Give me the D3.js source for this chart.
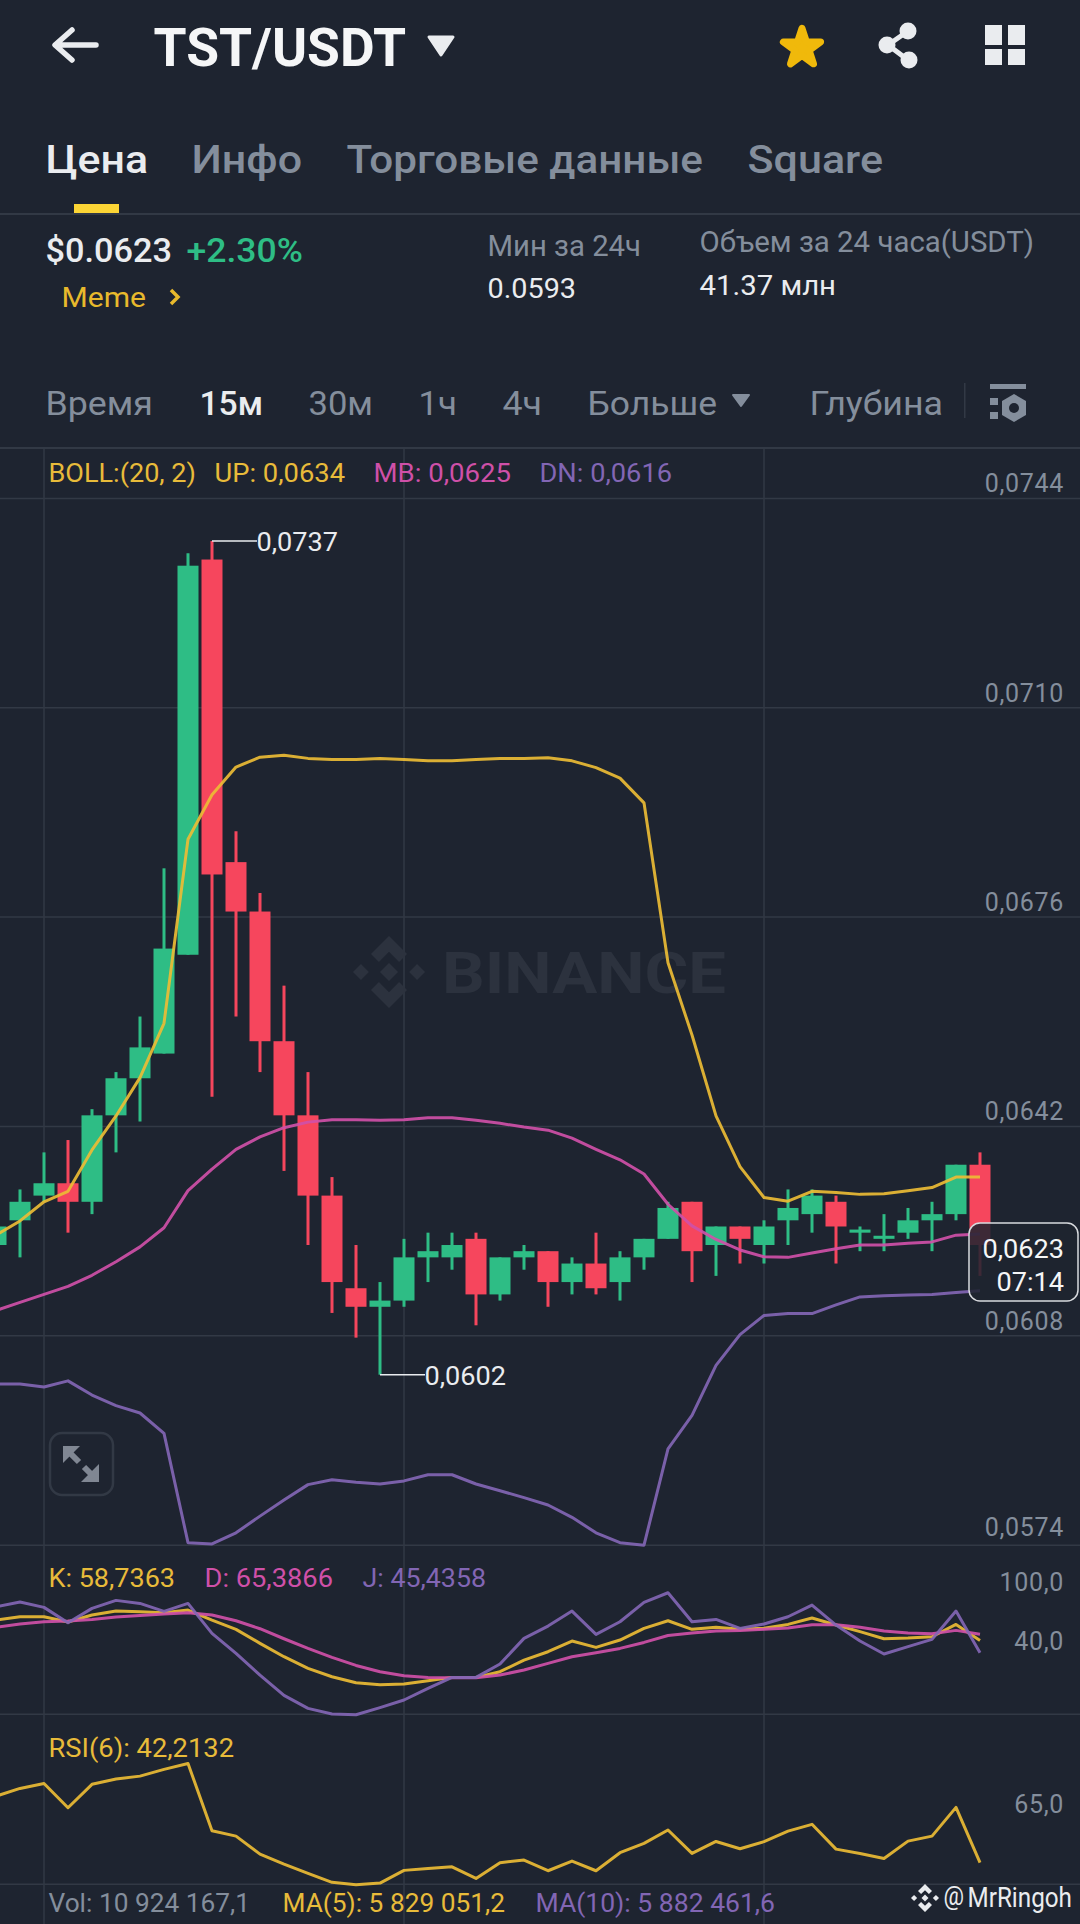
<!DOCTYPE html>
<html>
<head>
<meta charset="utf-8">
<script src="https://cdn.jsdelivr.net/npm/d3@7"></script>
<style>
  html, body { margin: 0; padding: 0; background: #1e2430; }
  svg { display: block; }
  text { font-family: Roboto, "Noto Sans", sans-serif; }
</style>
</head>
<body>
<div id="canvas"></div>
<script>
// candles, one per 15 minutes, oldest first
const opens  = [0.0623,0.0627,0.0631,0.0633,0.0630,0.0644,0.0650,0.0654,0.0670,0.0734,0.0685,0.0677,0.0656,0.0644,0.0631,0.0616,0.0613,0.0614,0.0621,0.0621,0.0624,0.0615,0.0621,0.0622,0.0617,0.0620,0.0617,0.0621,0.0624,0.0630,0.0623,0.0626,0.0623,0.0627,0.0628,0.0630,0.0625,0.0624,0.0625,0.0627,0.0628,0.0636];
const highs  = [0.0628,0.0632,0.0638,0.0640,0.0645,0.0651,0.0660,0.0684,0.0735,0.0737,0.0690,0.0680,0.0665,0.0651,0.0634,0.0623,0.0617,0.0624,0.0625,0.0625,0.0625,0.0621,0.0623,0.0622,0.0621,0.0625,0.0622,0.0624,0.0630,0.0630,0.0626,0.0626,0.0627,0.0632,0.0632,0.0631,0.0626,0.0628,0.0629,0.0630,0.0636,0.0638];
const lows   = [0.0622,0.0621,0.0630,0.0625,0.0628,0.0638,0.0643,0.0654,0.0670,0.0647,0.0660,0.0651,0.0635,0.0623,0.0612,0.0608,0.0602,0.0613,0.0617,0.0619,0.0610,0.0614,0.0619,0.0613,0.0615,0.0615,0.0614,0.0619,0.0624,0.0617,0.0618,0.0620,0.0620,0.0623,0.0625,0.0620,0.0622,0.0622,0.0624,0.0622,0.0627,0.0618];
const closes = [0.0626,0.0630,0.0633,0.0630,0.0644,0.0650,0.0655,0.0671,0.0733,0.0683,0.0677,0.0656,0.0644,0.0631,0.0617,0.0613,0.0614,0.0621,0.0622,0.0623,0.0615,0.0621,0.0622,0.0617,0.0620,0.0616,0.0621,0.0624,0.0629,0.0622,0.0626,0.0624,0.0626,0.0629,0.0631,0.0626,0.06255,0.06245,0.0627,0.0628,0.0636,0.0623];

// bollinger bands
const bollUp = [0.06246,0.06269,0.06300,0.06317,0.06384,0.06439,0.06501,0.06589,0.06887,0.06959,0.07004,0.07020,0.07023,0.07018,0.07016,0.07016,0.07018,0.07016,0.07014,0.07014,0.07016,0.07018,0.07018,0.07019,0.07014,0.07003,0.06986,0.06946,0.06687,0.06570,0.06439,0.06357,0.06307,0.06301,0.06317,0.06315,0.06312,0.06313,0.06318,0.06323,0.06340,0.06340];
const bollMb = [0.06124,0.06137,0.06150,0.06163,0.06181,0.06203,0.06227,0.06258,0.06318,0.06353,0.06385,0.06405,0.06420,0.06429,0.06433,0.06433,0.06432,0.06433,0.06436,0.06436,0.06432,0.06427,0.06421,0.06416,0.06403,0.06385,0.06368,0.06345,0.06296,0.06261,0.06239,0.06222,0.06211,0.06210,0.06217,0.06224,0.06230,0.06230,0.06233,0.06235,0.06246,0.06248];
const bollDn = [0.06005,0.06005,0.06000,0.06010,0.05987,0.05970,0.05958,0.05925,0.05748,0.05746,0.05764,0.05791,0.05817,0.05842,0.05850,0.05846,0.05843,0.05848,0.05858,0.05858,0.05843,0.05832,0.05821,0.05809,0.05789,0.05764,0.05748,0.05744,0.05900,0.05954,0.06035,0.06085,0.06116,0.06119,0.06119,0.06133,0.06146,0.06148,0.06149,0.06150,0.06153,0.06156];

// KDJ
const kdjK = [80.9,84.5,84.5,78.8,86.4,90.7,90.0,88.9,91.8,80.9,70.8,55.6,41.1,28.4,19.3,12.8,10.6,11.4,15.0,18.6,18.6,24.8,37.4,46.5,58.1,51.2,59.2,71.9,80.2,70.8,73.0,70.8,71.9,76.2,83.1,75.5,68.3,60.6,61.4,62.8,76.2,58.7];
const kdjD = [73.0,76.6,79.1,79.9,81.6,84.2,86.0,87.4,88.9,86.4,80.2,71.5,60.6,50.1,40.3,31.6,24.8,20.4,18.6,18.2,18.2,21.1,26.6,33.8,41.1,45.4,50.1,56.6,64.2,66.8,69.0,69.7,70.8,72.2,75.9,75.9,73.0,69.0,66.8,66.1,69.7,65.4];
const kdjJ = [95.4,100.5,94.7,78.0,93.6,102.3,99.0,90.3,99.0,66.4,44.7,21.1,-1.0,-15.1,-21.2,-22.0,-14.3,-6.0,6.6,18.6,18.6,33.1,61.0,74.4,90.7,65.3,79.1,100.1,110.6,79.1,81.6,71.9,76.6,84.5,97.2,75.5,58.1,44.0,52.0,59.9,90.7,45.4];

// RSI(6)
const rsi6 = [79.5,83.8,86.6,73.0,86.1,89.1,90.7,94.5,97.8,60.1,57.1,47.0,41.4,36.2,31.2,29.9,30.8,37.9,39.0,39.9,33.4,42.2,43.7,37.7,43.1,37.7,47.8,53.0,60.5,47.4,54.1,50.0,54.0,59.9,63.7,49.8,47.4,44.6,54.3,57.1,73.2,42.2];

// tick values: the labels are these rounded to 4 places
const priceTicks = [0.07439,0.07100,0.06761,0.06422,0.06083,0.05744];
const kdjTicks = [100,40];
const rsiTicks = [65];
const timeGrid = [2,17,32];  // candle index of vertical grid lines

const bg = "#1e2430", grid = "#323945", grey = "#848e9c", white = "#eaecef";
const green = "#2ebd85", red = "#f6465d", yellow = "#ecbc35", pink = "#cf50a8", purple = "#8266b4", gold = "#f0b90b";

const svg = d3.select("#canvas")
  .append("svg")
    .attr("width", 1080)
    .attr("height", 1924)
    .attr("viewBox", "0 0 1080 1924");

svg.append("rect").attr("width", 1080).attr("height", 1924).attr("fill", bg);

const xScale = d3.scaleLinear().domain([0, 41]).range([-4, 980]);
const yScale = d3.scaleLinear().domain([0.0737, 0.0602]).range([541, 1374.7]);
const kdjScale = d3.scaleLinear().domain([100, 40]).range([1602.5, 1657.7]);
const rsiScale = d3.scaleLinear().domain([65, 42.2]).range([1822, 1862.7]);

const comma = f => v => d3.format(f)(v).replace(".", ",");

// x0,x1 is the span the text takes in the picture
function txt(s, x0, x1, base, size, color, weight) {
    return svg.append("text")
      .attr("x", x0 - 1.5)
      .attr("y", base)
      .attr("textLength", x1 - x0 + 2.5)
      .attr("lengthAdjust", "spacingAndGlyphs")
      .attr("font-size", size)
      .attr("font-weight", weight || 400)
      .attr("fill", color)
      .text(s);
}

function drawHeader() {
    // back arrow
    svg.append("path")
      .attr("d", "M96,45H56M72,30L55,45L72,60")
      .attr("fill", "none").attr("stroke", white).attr("stroke-width", 5.5)
      .attr("stroke-linecap", "round").attr("stroke-linejoin", "round");
    txt("TST/USDT", 155, 405, 66, 53, "#f5f6f7", 700);
    svg.append("path").attr("d", "M429,37H453L441,55Z")
      .attr("fill", white).attr("stroke", white).attr("stroke-width", 3).attr("stroke-linejoin", "round");

    svg.append("path")
      .attr("d", d3.symbol().type(d3.symbolStar).size(430))
      .attr("transform", "translate(802,48)")
      .attr("fill", gold).attr("stroke", gold).attr("stroke-width", 7).attr("stroke-linejoin", "round");

    // share icon
    svg.append("path").attr("d", "M908,31L888,45L908,60")
      .attr("fill", "none").attr("stroke", white).attr("stroke-width", 5);
    [[908, 31], [887, 45], [909, 60]].forEach(d => {
        svg.append("circle").attr("cx", d[0]).attr("cy", d[1]).attr("r", 8.5).attr("fill", white);
    });

    // layout icon
    [[985, 25, 17, 20], [1008, 25, 17, 20], [985, 49, 17, 16], [1008, 49, 17, 16]].forEach(d => {
        svg.append("rect").attr("x", d[0]).attr("y", d[1]).attr("width", d[2]).attr("height", d[3]).attr("fill", white);
    });

    txt("Цена", 47, 147, 173, 39, white, 500);
    txt("Инфо", 193, 301, 173, 39, grey, 500);
    txt("Торговые данные", 348, 702, 173, 39, grey, 500);
    txt("Square", 749, 882, 173, 39, grey, 500);
    svg.append("rect").attr("x", 74).attr("y", 204).attr("width", 45).attr("height", 9).attr("fill", "#fcd535");
    svg.append("rect").attr("x", 0).attr("y", 213).attr("width", 1080).attr("height", 2).attr("fill", grid);

    txt("$0.0623", 47, 171, 262, 34, white, 500);
    txt("+2.30%", 188, 302, 262, 34, green, 500);
    txt("Meme", 63, 145, 307, 28, "#e8b92c");
    svg.append("path").attr("d", "M171,290L178,297L171,304")
      .attr("fill", "none").attr("stroke", "#e8b92c").attr("stroke-width", 3.5);
    txt("Мин за 24ч", 489, 640, 256, 29, grey);
    txt("0.0593", 489, 575, 298, 28, white);
    txt("Объем за 24 часа(USDT)", 701, 1033, 252, 29, grey);
    txt("41.37 млн", 701, 835, 295, 28, white);

    txt("Время", 47, 152, 415, 33, grey);
    txt("15м", 201, 262, 415, 33, white, 500);
    txt("30м", 310, 372, 415, 33, grey);
    txt("1ч", 420, 456, 415, 33, grey);
    txt("4ч", 504, 541, 415, 33, grey);
    txt("Больше", 589, 716, 415, 33, grey);
    svg.append("path").attr("d", "M733,395H749L741,406Z")
      .attr("fill", grey).attr("stroke", grey).attr("stroke-width", 2).attr("stroke-linejoin", "round");
    txt("Глубина", 811, 942, 415, 33, grey);
    svg.append("rect").attr("x", 964).attr("y", 383).attr("width", 1.5).attr("height", 35).attr("fill", grid);

    // settings icon
    svg.append("rect").attr("x", 990).attr("y", 384).attr("width", 36).attr("height", 5).attr("fill", grey);
    svg.append("rect").attr("x", 990).attr("y", 398).attr("width", 8).attr("height", 7).attr("fill", grey);
    svg.append("rect").attr("x", 990).attr("y", 412).attr("width", 8).attr("height", 7).attr("fill", grey);
    svg.append("path").attr("d", "M1014,394L1026,401V415L1014,422L1002,415V401Z").attr("fill", grey);
    svg.append("circle").attr("cx", 1014).attr("cy", 408).attr("r", 5).attr("fill", bg);

    svg.append("rect").attr("x", 0).attr("y", 447).attr("width", 1080).attr("height", 2).attr("fill", grid);
}

function binanceLogo(cx, cy, s, color) {
    const d = [
      [[0, -.25], [.25, 0], [0, .25], [-.25, 0]],
      [[-.78, -.22], [-.56, 0], [-.78, .22], [-1, 0]],
      [[.78, -.22], [1, 0], [.78, .22], [.56, 0]],
      [[0, -1], [.5, -.5], [.28, -.28], [0, -.56], [-.28, -.28], [-.5, -.5]],
      [[0, 1], [.5, .5], [.28, .28], [0, .56], [-.28, .28], [-.5, .5]]
    ];
    d.forEach(p => {
        svg.append("polygon")
          .attr("points", p.map(q => [cx + q[0] * s, cy + q[1] * s].join(",")).join(" "))
          .attr("fill", color);
    });
}

function drawGrid() {
    const lineYs = priceTicks.map(yScale).concat([1714.3, 1884.3]);
    svg.append("g").selectAll("line")
      .data(lineYs)
      .enter().append("line")
      .attr("x1", 0).attr("x2", 1080)
      .attr("y1", d => d).attr("y2", d => d)
      .attr("stroke", grid).attr("stroke-width", 1.5);

    svg.append("g").selectAll("line")
      .data(timeGrid)
      .enter().append("line")
      .attr("x1", d => xScale(d)).attr("x2", d => xScale(d))
      .attr("y1", 449).attr("y2", 1924)
      .attr("stroke", grid).attr("stroke-width", 1.5);

    // watermark
    binanceLogo(389, 972, 36, "#2c323e");
    svg.append("text")
      .attr("x", 442).attr("y", 993)
      .attr("textLength", 284).attr("lengthAdjust", "spacingAndGlyphs")
      .attr("font-size", 58).attr("font-weight", 700)
      .attr("font-family", "Inter, Roboto")
      .attr("fill", "#2c323e")
      .text("BINANCE");
}

function drawCandles() {
    const candles = d3.range(opens.length).map(i => ({
        i: i, o: opens[i], h: highs[i], l: lows[i], c: closes[i]
    }));
    const colorOf = d => d.c >= d.o ? green : red;
    const g = svg.append("g");

    g.selectAll(".wick")
      .data(candles)
      .enter().append("line")
      .attr("class", "wick")
      .attr("x1", d => xScale(d.i)).attr("x2", d => xScale(d.i))
      .attr("y1", d => yScale(d.h)).attr("y2", d => yScale(d.l))
      .attr("stroke", colorOf).attr("stroke-width", 3);

    g.selectAll(".body")
      .data(candles)
      .enter().append("rect")
      .attr("class", "body")
      .attr("x", d => xScale(d.i) - 10.5)
      .attr("width", 21)
      .attr("y", d => yScale(Math.max(d.o, d.c)))
      .attr("height", d => Math.abs(yScale(d.o) - yScale(d.c)))
      .attr("fill", colorOf);
}

function drawLine(values, scale, color) {
    const line = d3.line().x((d, i) => xScale(i)).y(d => scale(d));
    svg.append("path")
      .datum(values)
      .attr("d", line)
      .attr("fill", "none")
      .attr("stroke", color)
      .attr("stroke-width", 3)
      .attr("stroke-opacity", 0.92)
      .attr("stroke-linejoin", "round");
}

function drawAxes() {
    const style = (g, dy) => {
        g.select(".domain").remove();
        g.selectAll("text")
          .attr("x", 0)
          .attr("dy", dy)
          .attr("fill", grey)
          .attr("font-size", 25)
          .attr("letter-spacing", 0.7)
          .attr("font-family", "Roboto");
    };
    svg.append("g").attr("transform", "translate(1064,0)")
      .call(d3.axisLeft(yScale).tickValues(priceTicks).tickSize(0).tickFormat(comma(".4f")))
      .call(style, d => d < 0.058 ? -9.5 : -6.5);
    svg.append("g").attr("transform", "translate(1064,0)")
      .call(d3.axisLeft(kdjScale).tickValues(kdjTicks).tickSize(0).tickFormat(comma(".1f")))
      .call(style, d => d == 100 ? -12 : -8.5);
    svg.append("g").attr("transform", "translate(1064,0)")
      .call(d3.axisLeft(rsiScale).tickValues(rsiTicks).tickSize(0).tickFormat(comma(".1f")))
      .call(style, -9.5);
}

function drawLabels() {
    txt("BOLL:(20, 2)", 50, 195, 482, 25, "#e8bb3a");
    txt("UP: 0,0634", 216, 344, 482, 25, "#e8bb3a");
    txt("MB: 0,0625", 375, 510, 482, 25, pink);
    txt("DN: 0,0616", 541, 671, 482, 25, purple);

    txt("K: 58,7363", 50, 174, 1587, 25, "#e8bb3a");
    txt("D: 65,3866", 206, 332, 1587, 25, pink);
    txt("J: 45,4358", 364, 485, 1587, 25, purple);
    txt("RSI(6): 42,2132", 50, 233, 1757, 25, "#e8bb3a");
    txt("Vol: 10 924 167,1", 50, 249, 1912, 25, grey);
    txt("MA(5): 5 829 051,2", 284, 504, 1912, 25, "#e8bb3a");
    txt("MA(10): 5 882 461,6", 537, 774, 1912, 25, purple);

    // high and low markers
    const hi = d3.max(highs), lo = d3.min(lows);
    const hiX = xScale(highs.indexOf(hi)), loX = xScale(lows.indexOf(lo));
    svg.append("line").attr("x1", hiX).attr("x2", 257).attr("y1", yScale(hi)).attr("y2", yScale(hi))
      .attr("stroke", white).attr("stroke-width", 1.5);
    txt("0,0737", 258, 337, yScale(hi) + 9.5, 25, white);
    svg.append("line").attr("x1", loX).attr("x2", 425).attr("y1", yScale(lo)).attr("y2", yScale(lo))
      .attr("stroke", white).attr("stroke-width", 1.5);
    txt("0,0602", 426, 505, yScale(lo) + 10.5, 25, white);

    // current price box
    svg.append("rect")
      .attr("x", 969).attr("y", 1223).attr("width", 109).attr("height", 78).attr("rx", 11)
      .attr("fill", bg).attr("fill-opacity", 0.86)
      .attr("stroke", "#d8dade").attr("stroke-width", 1.5);
    txt("0,0623", 984, 1063, 1258, 25, "#f5f6f7");
    txt("07:14", 998, 1063, 1291, 25, "#f5f6f7");

    // expand button
    svg.append("rect")
      .attr("x", 50).attr("y", 1433).attr("width", 63).attr("height", 62).attr("rx", 12)
      .attr("fill", "none").attr("stroke", grid).attr("stroke-width", 2.5);
    svg.append("path").attr("d", "M63,1446H80L63,1463Z").attr("fill", "#808793");
    svg.append("path").attr("d", "M99,1482H81L99,1464Z").attr("fill", "#808793");
    svg.append("path").attr("d", "M68,1451L79,1462M84,1467L94,1477").attr("stroke", "#808793").attr("stroke-width", 6);

    // user watermark
    binanceLogo(925, 1898, 14, white);
    txt("@", 945, 963, 1905, 25, white);
    txt("MrRingoh", 969, 1071, 1907, 27, white);
}

drawHeader();
drawGrid();
drawCandles();
drawLine(bollUp, yScale, yellow);
drawLine(bollMb, yScale, pink);
drawLine(bollDn, yScale, purple);
drawLine(kdjK, kdjScale, yellow);
drawLine(kdjD, kdjScale, pink);
drawLine(kdjJ, kdjScale, purple);
drawLine(rsi6, rsiScale, yellow);
drawAxes();
drawLabels();
</script>
</body>
</html>
